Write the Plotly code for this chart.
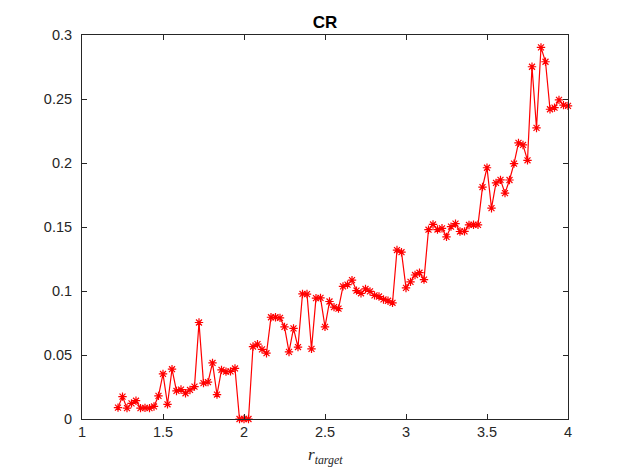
import plotly.graph_objects as go

r_target = [
    1.2222, 1.2500, 1.2778, 1.3056, 1.3333, 1.3611, 1.3889, 1.4167, 1.4444, 1.4722,
    1.5000, 1.5278, 1.5556, 1.5833, 1.6111, 1.6389, 1.6667, 1.6944, 1.7222, 1.7500,
    1.7778, 1.8056, 1.8333, 1.8611, 1.8889, 1.9167, 1.9444, 1.9722, 2.0000, 2.0278,
    2.0556, 2.0833, 2.1111, 2.1389, 2.1667, 2.1944, 2.2222, 2.2500, 2.2778, 2.3056,
    2.3333, 2.3611, 2.3889, 2.4167, 2.4444, 2.4722, 2.5000, 2.5278, 2.5556, 2.5833,
    2.6111, 2.6389, 2.6667, 2.6944, 2.7222, 2.7500, 2.7778, 2.8056, 2.8333, 2.8611,
    2.8889, 2.9167, 2.9444, 2.9722, 3.0000, 3.0278, 3.0556, 3.0833, 3.1111, 3.1389,
    3.1667, 3.1944, 3.2222, 3.2500, 3.2778, 3.3056, 3.3333, 3.3611, 3.3889, 3.4167,
    3.4444, 3.4722, 3.5000, 3.5278, 3.5556, 3.5833, 3.6111, 3.6389, 3.6667, 3.6944,
    3.7222, 3.7500, 3.7778, 3.8056, 3.8333, 3.8611, 3.8889, 3.9167, 3.9444, 3.9722,
    4.0000,
]

cr = [
    0.0089, 0.0175, 0.0085, 0.0122, 0.0143, 0.0085, 0.0087, 0.0085, 0.0098, 0.0181,
    0.0352, 0.0115, 0.0389, 0.0219, 0.0230, 0.0201, 0.0227, 0.0253, 0.0754, 0.0280,
    0.0288, 0.0438, 0.0191, 0.0384, 0.0370, 0.0372, 0.0395, 0.0, 0.0, 0.0,
    0.0566, 0.0585, 0.0544, 0.0514, 0.0795, 0.0795, 0.0790, 0.0720, 0.0524, 0.0708,
    0.0562, 0.0977, 0.0976, 0.0548, 0.0944, 0.0946, 0.0720, 0.0918, 0.0874, 0.0862,
    0.1036, 0.1050, 0.1085, 0.1003, 0.0982, 0.1016, 0.0997, 0.0966, 0.0957, 0.0934,
    0.0924, 0.0908, 0.1320, 0.1303, 0.1024, 0.1071, 0.1125, 0.1143, 0.1089, 0.1479,
    0.1520, 0.1480, 0.1490, 0.1423, 0.1503, 0.1526, 0.1465, 0.1466, 0.1516, 0.1518,
    0.1517, 0.1812, 0.1963, 0.1647, 0.1845, 0.1868, 0.1765, 0.1867, 0.1995, 0.2157,
    0.2141, 0.2021, 0.2752, 0.2274, 0.2903, 0.2791, 0.2420, 0.2433, 0.2493, 0.2452,
    0.2446,
]

x_ticks = [1, 1.5, 2, 2.5, 3, 3.5, 4]
x_tick_labels = ["1", "1.5", "2", "2.5", "3", "3.5", "4"]
y_ticks = [0, 0.05, 0.1, 0.15, 0.2, 0.25, 0.3]
y_tick_labels = ["0", "0.05", "0.1", "0.15", "0.2", "0.25", "0.3"]

W, H = 620, 463

fig = go.Figure()
fig.add_trace(go.Scatter(
    x=r_target, y=cr, mode="lines+markers",
    line=dict(color="#ff0000", width=1.2),
    marker=dict(symbol="asterisk-open", size=7, color="#ff0000",
                line=dict(color="#ff0000", width=1.2)),
    cliponaxis=False, showlegend=False,
))

axis_common = dict(
    showline=True, linecolor="#262626", linewidth=1, mirror="ticks",
    ticks="inside", ticklen=5, tickwidth=1, tickcolor="#262626",
    showgrid=False, zeroline=False,
    tickfont=dict(family="Liberation Sans, Arial, sans-serif", size=14.5, color="#262626"),
)

fig.update_layout(
    width=W, height=H,
    margin=dict(l=74, r=60, t=27, b=52),
    paper_bgcolor="white", plot_bgcolor="white",
    xaxis=dict(range=[1, 4], tickvals=x_ticks, ticktext=x_tick_labels, **axis_common),
    yaxis=dict(range=[0, 0.3], tickvals=y_ticks, ticktext=y_tick_labels,
               ticklabelstandoff=6, **axis_common),
    title=dict(text="<b>CR</b>", x=317 / W, xanchor="center", xref="container",
               y=1 - 14 / H, yanchor="middle", yref="container",
               font=dict(family="Liberation Sans, Arial, sans-serif", size=17, color="black")),
    annotations=[dict(
        text="<i>r</i><sub><i>target</i></sub>", xref="paper", yref="paper",
        x=0.5, y=-0.097, xanchor="center", yanchor="middle", showarrow=False,
        font=dict(family="Liberation Serif, DejaVu Serif, serif", size=17, color="#262626"),
    )],
)

fig.write_html("out.html")
